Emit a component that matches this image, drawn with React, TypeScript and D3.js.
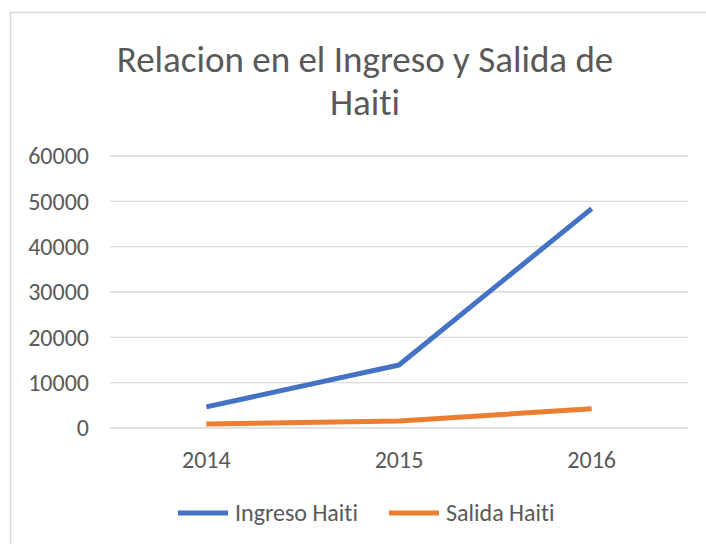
import React, { useRef, useEffect } from "react";
import * as d3 from "d3";

const years = ["2014", "2015", "2016"];
const ingresoHaiti = [4650, 13900, 48400];
const salidaHaiti = [900, 1550, 4250];
const yTicks = [0, 10000, 20000, 30000, 40000, 50000, 60000];
const seriesNames = ["Ingreso Haiti", "Salida Haiti"];
const seriesColors = ["#4472C4", "#ED7D31"];

const W = 706;
const H = 544;
const FONT = "Carlito, Calibri, 'Open Sans', sans-serif";

function App() {
  const svgRef = useRef<SVGSVGElement>(null);

  useEffect(() => {
    document.body.style.margin = "0";
    const svg = d3.select(svgRef.current);
    svg.selectAll("*").remove();
    svg.style("font-variant-ligatures", "none");

    const margin = { top: 156, right: 18, bottom: 116, left: 110 };
    const innerW = W - margin.left - margin.right;
    const innerH = H - margin.top - margin.bottom;

    // chart border
    svg
      .append("rect")
      .attr("x", 10.5)
      .attr("y", 12.5)
      .attr("width", W + 20)
      .attr("height", H + 20)
      .attr("fill", "white")
      .attr("stroke", "#d9d9d9")
      .attr("stroke-width", 1.5);

    // title
    const title = svg
      .append("text")
      .attr("text-anchor", "middle")
      .attr("fill", "#595959")
      .style("font-family", FONT)
      .style("font-size", "37px");
    title.append("tspan").attr("x", 365).attr("y", 72).text("Relacion en el Ingreso y Salida de");
    title.append("tspan").attr("x", 365).attr("y", 115).text("Haiti");

    const x = d3.scaleBand().domain(years).range([0, innerW]);
    const y = d3.scaleLinear().domain([0, 60000]).range([innerH, 0]);

    const g = svg
      .append("g")
      .attr("transform", `translate(${margin.left}, ${margin.top})`);

    // gridlines
    g.selectAll(".grid")
      .data(yTicks)
      .enter()
      .append("line")
      .attr("x1", 0)
      .attr("x2", innerW)
      .attr("y1", (d) => y(d))
      .attr("y2", (d) => y(d))
      .attr("stroke", "#d9d9d9")
      .attr("stroke-width", 1.3);

    // y labels
    g.selectAll(".ylab")
      .data(yTicks)
      .enter()
      .append("text")
      .attr("x", -21)
      .attr("y", (d) => y(d))
      .attr("dy", "0.35em")
      .attr("text-anchor", "end")
      .attr("fill", "#595959")
      .style("font-family", FONT)
      .style("font-size", "24px")
      .text((d) => String(d));

    // x labels
    g.selectAll(".xlab")
      .data(years)
      .enter()
      .append("text")
      .attr("x", (d) => x(d)! + x.bandwidth() / 2)
      .attr("y", innerH + 40)
      .attr("text-anchor", "middle")
      .attr("fill", "#595959")
      .style("font-family", FONT)
      .style("font-size", "24px")
      .text((d) => d);

    const line = d3
      .line<number>()
      .x((_, i) => x(years[i])! + x.bandwidth() / 2)
      .y((d) => y(d));

    [ingresoHaiti, salidaHaiti].forEach((s, i) => {
      g.append("path")
        .datum(s)
        .attr("d", line)
        .attr("fill", "none")
        .attr("stroke", seriesColors[i])
        .attr("stroke-width", 5)
        .attr("stroke-linejoin", "round");
    });

    // legend
    const legendX = [178, 389];
    seriesNames.forEach((name, i) => {
      svg
        .append("line")
        .attr("x1", legendX[i])
        .attr("x2", legendX[i] + 50)
        .attr("y1", 513)
        .attr("y2", 513)
        .attr("stroke", seriesColors[i])
        .attr("stroke-width", 5);
      svg
        .append("text")
        .attr("x", legendX[i] + 57)
        .attr("y", 513)
        .attr("dy", "0.35em")
        .attr("fill", "#595959")
        .style("font-family", FONT)
        .style("font-size", "24px")
        .text(name);
    });
  }, []);

  return <svg ref={svgRef} width={W} height={H} style={{ display: "block" }}></svg>;
}

export default App;
